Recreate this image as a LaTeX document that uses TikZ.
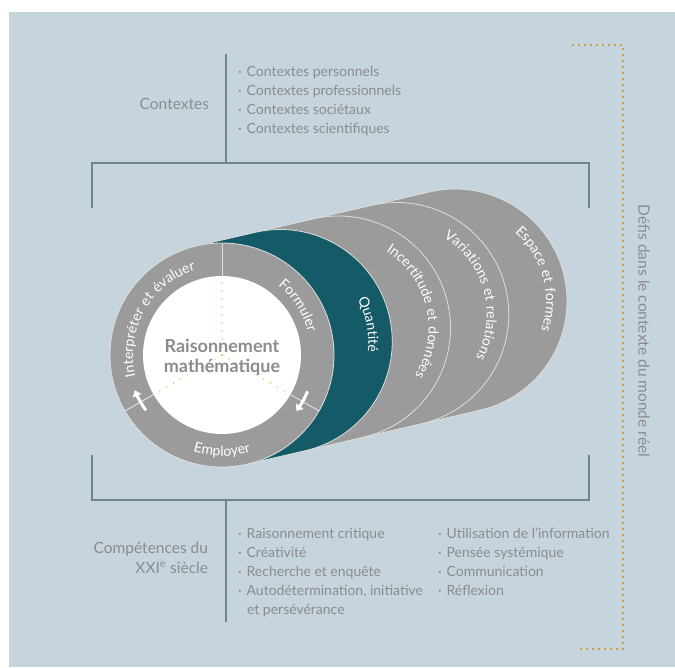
\documentclass[tikz,border=0pt]{standalone}
\usepackage{fontspec}
\setmainfont{Lato}
\newfontfamily\ringfont[LetterSpace=9]{Lato}
\usetikzlibrary{decorations.text,arrows.meta}
\definecolor{bgc}{HTML}{C6D4DD}
\definecolor{framec}{HTML}{6E848F}
\definecolor{txtc}{HTML}{8C8C8C}
\definecolor{dotc}{HTML}{D1A040}
\definecolor{dotl}{HTML}{E6BC6E}
\definecolor{diskc}{HTML}{9B9B9B}
\definecolor{tealc}{HTML}{155B67}
\definecolor{edgec}{HTML}{DEDEDE}
\newcommand\diskhull[2]{%
  \filldraw[fill=#1, draw=edgec, line width=0.8pt, shift={(#2)}]
    (103.05:112) -- ++(-58.25,-13.5)
    arc[start angle=103.05, end angle=283.05, radius=112]
    -- ++(58.25,13.5)
    arc[start angle=283.05, end angle=463.05, radius=112] -- cycle;}
\begin{document}
\begin{tikzpicture}[x=1pt,y=1pt,
  every node/.style={inner sep=0pt, outer sep=0pt},
  frame/.style={draw=framec, line width=1.6pt},
  lbl/.style={text=txtc, font=\fontsize{15.5}{18}\selectfont, anchor=base east},
  item/.style={text=txtc, font=\fontsize{14}{16}\selectfont, anchor=base west},
  ctext/.style={text=txtc, font=\bfseries\fontsize{18}{20}\selectfont, anchor=base},
  ringtext/.style={decorate, decoration={text along path, text align=center,
     text={|\ringfont\fontsize{14}{16}\selectfont\color{white}|#1}}},
  arrowhook/.style={white, line width=3pt, -{Triangle[width=9pt,length=6pt]}}
]
\useasboundingbox (0,0) rectangle (675,-667);
\fill[bgc] (9,-12) rectangle (675,-667);

% dotted orange bracket
\draw[dotc, line width=2.4pt, dash pattern=on 2.4pt off 3.6pt]
  (572,-45) -- (623,-45) -- (623,-649) -- (580,-649);

% frame lines
\draw[frame] (92,-208) -- (92,-163) -- (589,-163) -- (589,-208);
\draw[frame] (92,-455) -- (92,-500) -- (589,-500) -- (589,-455);
\draw[frame] (226,-54) -- (226,-163);
\draw[frame] (226,-500) -- (226,-622);

% disks
\coordinate (c0) at (222,-355);
\coordinate (c1) at (280.25,-341.5);
\coordinate (c2) at (338.5,-328);
\coordinate (c3) at (396.75,-314.5);
\coordinate (c4) at (455,-301);
\diskhull{diskc}{c4}
\diskhull{diskc}{c3}
\diskhull{diskc}{c2}
\diskhull{tealc}{c1}
\filldraw[fill=diskc, draw=edgec, line width=0.8pt] (c0) circle[radius=112];
\fill[white] (c0) circle[radius=79];

\foreach \a in {90,210,330}{
  \draw[dotl, line width=1.6pt, line cap=round, dash pattern=on 0pt off 8pt, shift={(c0)}] (0,0) -- (\a:77);
  \draw[edgec, line width=1pt, shift={(c0)}] (\a:79) -- (\a:112);
}
\draw[arrowhook, shift={(c0)}] (216:94) arc[start angle=216, end angle=202, radius=94];
\draw[arrowhook, shift={(c0)}] (337:93) arc[start angle=337, end angle=323, radius=93];

% ring texts
\path[ringtext={Interpréter et évaluer}, shift={(c0)}] (212:89) arc[start angle=212, end angle=89, radius=89];
\path[ringtext={Formuler}, shift={(c0)}] (82:89) arc[start angle=82, end angle=-16, radius=89];
\path[ringtext={Employer}, shift={(c0)}] (222:101) arc[start angle=222, end angle=318, radius=101];
\path[ringtext={Quantité}, shift={(c1)}] (62:88) arc[start angle=62, end angle=-40, radius=88];
\path[ringtext={Incertitude et données}, shift={(c2)}] (78:90) arc[start angle=78, end angle=-52, radius=90];
\path[ringtext={Variations et relations}, shift={(c3)}] (80:90) arc[start angle=80, end angle=-50, radius=90];
\path[ringtext={Espace et formes}, shift={(c4)}] (75:91) arc[start angle=75, end angle=-45, radius=91];

\node[ctext] (rm1) at (222,-352) {Raisonnement};
\node[ctext] (rm2) at (222,-372) {mathématique};

% labels
\node[lbl] (ctx) at (209,-109) {Contextes};
\node[lbl] (comp1) at (208,-553) {Compétences du};
\node[lbl] (comp2) at (208,-573) {XXI\textsuperscript{e} siècle};
\node[lbl, anchor=center, rotate=-90] (defis) at (644,-331) {Défis dans le contexte du monde réel};

% lists
\node[item] (t1) at (238,-76) {·\hspace{5pt}Contextes personnels};
\node[item] (t2) at (238,-95) {·\hspace{5pt}Contextes professionnels};
\node[item] (t3) at (238,-114) {·\hspace{5pt}Contextes sociétaux};
\node[item] (t4) at (238,-133) {·\hspace{5pt}Contextes scientifiques};

\node[item] (b1) at (238,-538) {·\hspace{5pt}Raisonnement critique};
\node[item] (b2) at (238,-557) {·\hspace{5pt}Créativité};
\node[item] (b3) at (238,-576) {·\hspace{5pt}Recherche et enquête};
\node[item] (b4) at (238,-595) {·\hspace{5pt}Autodétermination, initiative};
\node[item] (b5) at (247,-614) {et persévérance};

\node[item] (d1) at (438,-538) {·\hspace{5pt}Utilisation de l’information};
\node[item] (d2) at (438,-557) {·\hspace{5pt}Pensée systémique};
\node[item] (d3) at (438,-576) {·\hspace{5pt}Communication};
\node[item] (d4) at (438,-595) {·\hspace{5pt}Réflexion};
\end{tikzpicture}
\end{document}
